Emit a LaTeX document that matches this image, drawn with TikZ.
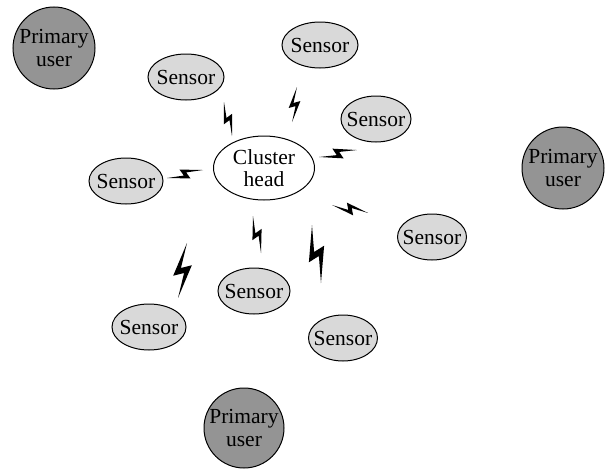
\documentclass[tikz,border=0pt]{standalone}
\usepackage{fontspec}
\setmainfont{Liberation Serif}
\usetikzlibrary{shapes.geometric}
\definecolor{sensorgray}{gray}{0.85}
\definecolor{primarygray}{gray}{0.58}
\begin{document}
\begin{tikzpicture}
[every node/.style={inner sep=0pt, font=\fontsize{21.5}{22.5}\selectfont, align=center},
 sensor/.style={ellipse, minimum width=72pt, minimum height=46pt, inner xsep=-14pt, inner ysep=-6pt, fill=sensorgray, line width=1pt, draw=black},
 primary/.style={circle, minimum size=82pt, inner sep=-8pt, fill=primarygray, line width=1pt, draw=black},
 head/.style={ellipse, minimum width=101pt, minimum height=64pt, inner sep=-4pt, fill=white, line width=1pt, draw=black},
 pics/bolt/.style={code={\fill[black] (0,0) -- (0.62,-0.15) -- (0.54,0.035) -- (1,0) -- (0.38,0.15) -- (0.46,-0.035) -- cycle;}}]
\useasboundingbox (0pt,0pt) rectangle (610pt,-471pt);
\node (p1) [primary] at (54pt, -48pt) {Primary\\user};
\node (p2) [primary] at (563pt, -168pt) {Primary\\user};
\node (p3) [primary, minimum size=80pt] at (244pt, -428pt) {Primary\\user};
\node (ch) [head] at (264pt, -168pt) {Cluster\\head};
\node (s1) [sensor, minimum width=76pt] at (320pt, -45pt) {Sensor};
\node (s2) [sensor, minimum width=76pt] at (186pt, -77pt) {Sensor};
\node (s3) [sensor, minimum width=70pt] at (376pt, -119pt) {Sensor};
\node (s4) [sensor, minimum width=74pt] at (126pt, -181pt) {Sensor};
\node (s5) [sensor, minimum width=69pt] at (432pt, -237pt) {Sensor};
\node (s6) [sensor] at (254pt, -291pt) {Sensor};
\node (s7) [sensor, minimum width=74pt] at (149pt, -327pt) {Sensor};
\node (s8) [sensor, minimum width=69pt] at (343pt, -338pt) {Sensor};
\pic [rotate=-76.8, x=35pt, y=35pt] at (224pt, -102pt) {bolt};
\pic [rotate=-98, x=35.4pt, y=35.4pt] at (297pt, -87pt) {bolt};
\pic [rotate=10.4, x=38.6pt, y=38.6pt] at (319pt, -157pt) {bolt};
\pic [rotate=12.5, x=36.9pt, y=36.9pt] at (167pt, -178pt) {bolt};
\pic [rotate=-12.5, x=36.9pt, y=36.9pt] at (332pt, -205pt) {bolt};
\pic [rotate=-77.8, x=37.9pt, y=37.9pt] at (253pt, -216pt) {bolt};
\pic [rotate=-99.3, x=55.7pt, y=55.7pt] at (187pt, -243pt) {bolt};
\pic [rotate=-81.2, x=58.7pt, y=58.7pt] at (312pt, -225pt) {bolt};
\end{tikzpicture}
\end{document}
